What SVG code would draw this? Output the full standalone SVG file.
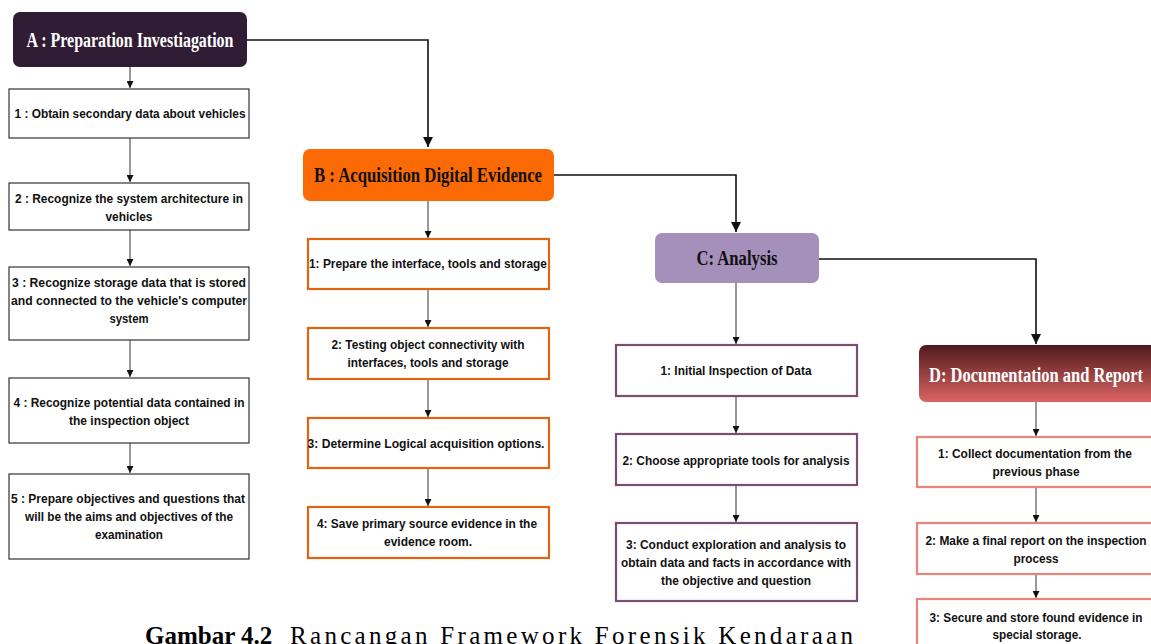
<svg xmlns="http://www.w3.org/2000/svg" width="1151" height="644" viewBox="0 0 1151 644">
  <defs>
    <marker id="arr" viewBox="0 0 10 10" refX="10" refY="5" markerWidth="7" markerHeight="7" markerUnits="userSpaceOnUse" orient="auto">
      <path d="M0,0 L10,5 L0,10 z" fill="#111"/>
    </marker>
    <marker id="arrBig" viewBox="0 0 10 10" refX="10" refY="5" markerWidth="10" markerHeight="10" markerUnits="userSpaceOnUse" orient="auto">
      <path d="M0,0 L10,5 L0,10 z" fill="#111"/>
    </marker>
    <linearGradient id="gradD" x1="0" y1="0" x2="0" y2="1">
      <stop offset="0" stop-color="#4f1a1d"/>
      <stop offset="1" stop-color="#dc6462"/>
    </linearGradient>
    <style>
      .hdr { font-family: "Liberation Serif", "Times New Roman", serif; font-weight: bold; font-size: 20px; text-anchor: middle; }
      .hw { fill: #ffffff; }
      .hb { fill: #111111; }
      .t { font-family: "Liberation Sans", Arial, sans-serif; font-weight: bold; font-size: 13.5px; fill: #111; text-anchor: middle; }
      .boxA { fill: #fff; stroke: #333; stroke-width: 1.2; }
      .boxB { fill: #fff; stroke: #e3640f; stroke-width: 2.2; }
      .boxC { fill: #fff; stroke: #7b4e6f; stroke-width: 2.2; }
      .boxD { fill: #fff; stroke: #e9847d; stroke-width: 2.2; }
      .main { fill: none; stroke: #111; stroke-width: 1.6; }
      .sub { fill: none; stroke: #555; stroke-width: 1.2; }
      .cap { font-family: "Liberation Serif", "Times New Roman", serif; font-size: 25px; fill: #000; }
    </style>
  </defs>

  <rect width="1151" height="644" fill="#ffffff"/>

  <!-- figure caption, distributed along the line and running off the bottom edge -->
  <text class="cap" x="145" y="644" font-weight="bold">Gambar 4.2</text>
  <text class="cap" x="290" y="644" textLength="563" lengthAdjust="spacing">Rancangan Framework Forensik Kendaraan</text>

  <!-- connectors -->
  <g id="connectors">
    <path class="main" d="M247,40 H428 V147" marker-end="url(#arrBig)"/>
    <path class="main" d="M554,175 H736 V232" marker-end="url(#arrBig)"/>
    <path class="main" d="M819,259 H1036 V344" marker-end="url(#arrBig)"/>

    <path class="sub" d="M130,67 V88" marker-end="url(#arr)"/>
    <path class="sub" d="M130,138 V182" marker-end="url(#arr)"/>
    <path class="sub" d="M130,230 V266" marker-end="url(#arr)"/>
    <path class="sub" d="M130,340 V377" marker-end="url(#arr)"/>
    <path class="sub" d="M130,443 V473" marker-end="url(#arr)"/>

    <path class="sub" d="M428,201 V238" marker-end="url(#arr)"/>
    <path class="sub" d="M428,289 V327" marker-end="url(#arr)"/>
    <path class="sub" d="M428,379 V417" marker-end="url(#arr)"/>
    <path class="sub" d="M428,468 V506" marker-end="url(#arr)"/>

    <path class="sub" d="M736,283 V344" marker-end="url(#arr)"/>
    <path class="sub" d="M736,396 V433" marker-end="url(#arr)"/>
    <path class="sub" d="M736,485 V522" marker-end="url(#arr)"/>

    <path class="sub" d="M1036,402 V436" marker-end="url(#arr)"/>
    <path class="sub" d="M1036,487 V522" marker-end="url(#arr)"/>
    <path class="sub" d="M1036,574 V598" marker-end="url(#arr)"/>
  </g>

  <!-- phase A -->
  <g id="nodeA">
    <rect x="13" y="12" width="234" height="55" rx="7" fill="#301c34"/>
    <text class="hdr hw" x="130" y="47" textLength="207" lengthAdjust="spacingAndGlyphs">A : Preparation Investiagation</text>
  </g>
  <g id="nodeA1">
    <rect class="boxA" x="9" y="89" width="240" height="49"/>
    <text class="t" x="130" y="118" textLength="231" lengthAdjust="spacingAndGlyphs">1 : Obtain secondary data about vehicles</text>
  </g>
  <g id="nodeA2">
    <rect class="boxA" x="9" y="183" width="240" height="47"/>
    <text class="t" x="129" y="203" textLength="228" lengthAdjust="spacingAndGlyphs">2 : Recognize the system architecture in</text>
    <text class="t" x="129" y="221" textLength="47" lengthAdjust="spacingAndGlyphs">vehicles</text>
  </g>
  <g id="nodeA3">
    <rect class="boxA" x="9" y="267" width="240" height="73"/>
    <text class="t" x="129" y="287" textLength="234" lengthAdjust="spacingAndGlyphs">3 : Recognize storage data that is stored</text>
    <text class="t" x="129" y="305" textLength="236" lengthAdjust="spacingAndGlyphs">and connected to the vehicle's computer</text>
    <text class="t" x="129" y="323" textLength="39" lengthAdjust="spacingAndGlyphs">system</text>
  </g>
  <g id="nodeA4">
    <rect class="boxA" x="9" y="378" width="240" height="65"/>
    <text class="t" x="129" y="407" textLength="231" lengthAdjust="spacingAndGlyphs">4 : Recognize potential data contained in</text>
    <text class="t" x="129" y="425" textLength="120" lengthAdjust="spacingAndGlyphs">the inspection object</text>
  </g>
  <g id="nodeA5">
    <rect class="boxA" x="9" y="474" width="240" height="85"/>
    <text class="t" x="128" y="503" textLength="234" lengthAdjust="spacingAndGlyphs">5 : Prepare objectives and questions that</text>
    <text class="t" x="129" y="521" textLength="208" lengthAdjust="spacingAndGlyphs">will be the aims and objectives of the</text>
    <text class="t" x="129" y="539" textLength="68" lengthAdjust="spacingAndGlyphs">examination</text>
  </g>

  <!-- phase B -->
  <g id="nodeB">
    <rect x="303" y="149" width="251" height="52" rx="7" fill="#fb6a04"/>
    <text class="hdr hb" x="428" y="182" textLength="228" lengthAdjust="spacingAndGlyphs">B : Acquisition Digital Evidence</text>
  </g>
  <g id="nodeB1">
    <rect class="boxB" x="308" y="239" width="241" height="50"/>
    <text class="t" x="428" y="268" textLength="238" lengthAdjust="spacingAndGlyphs">1: Prepare the interface, tools and storage</text>
  </g>
  <g id="nodeB2">
    <rect class="boxB" x="308" y="328" width="241" height="51"/>
    <text class="t" x="428" y="349" textLength="193" lengthAdjust="spacingAndGlyphs">2: Testing object connectivity with</text>
    <text class="t" x="428" y="367" textLength="161" lengthAdjust="spacingAndGlyphs">interfaces, tools and storage</text>
  </g>
  <g id="nodeB3">
    <rect class="boxB" x="308" y="418" width="241" height="50"/>
    <text class="t" x="426" y="448" textLength="237" lengthAdjust="spacingAndGlyphs">3: Determine Logical acquisition options.</text>
  </g>
  <g id="nodeB4">
    <rect class="boxB" x="308" y="507" width="241" height="51"/>
    <text class="t" x="427" y="528" textLength="220" lengthAdjust="spacingAndGlyphs">4: Save primary source evidence in the</text>
    <text class="t" x="428" y="546" textLength="88" lengthAdjust="spacingAndGlyphs">evidence room.</text>
  </g>

  <!-- phase C -->
  <g id="nodeC">
    <rect x="655" y="233" width="164" height="50" rx="7" fill="#a58fbb"/>
    <text class="hdr hb" x="737" y="265" textLength="81" lengthAdjust="spacingAndGlyphs">C: Analysis</text>
  </g>
  <g id="nodeC1">
    <rect class="boxC" x="616" y="345" width="241" height="51"/>
    <text class="t" x="736" y="375" textLength="151" lengthAdjust="spacingAndGlyphs">1: Initial Inspection of Data</text>
  </g>
  <g id="nodeC2">
    <rect class="boxC" x="616" y="434" width="241" height="51"/>
    <text class="t" x="736" y="465" textLength="227" lengthAdjust="spacingAndGlyphs">2: Choose appropriate tools for analysis</text>
  </g>
  <g id="nodeC3">
    <rect class="boxC" x="616" y="523" width="241" height="78"/>
    <text class="t" x="736" y="549" textLength="220" lengthAdjust="spacingAndGlyphs">3: Conduct exploration and analysis to</text>
    <text class="t" x="736" y="567" textLength="230" lengthAdjust="spacingAndGlyphs">obtain data and facts in accordance with</text>
    <text class="t" x="736" y="585" textLength="150" lengthAdjust="spacingAndGlyphs">the objective and question</text>
  </g>

  <!-- phase D -->
  <g id="nodeD">
    <rect x="919" y="345" width="240" height="57" rx="7" fill="url(#gradD)"/>
    <text class="hdr hw" x="1036" y="382" textLength="214" lengthAdjust="spacingAndGlyphs">D: Documentation and Report</text>
  </g>
  <g id="nodeD1">
    <rect class="boxD" x="917" y="437" width="240" height="50"/>
    <text class="t" x="1035" y="458" textLength="194" lengthAdjust="spacingAndGlyphs">1: Collect documentation from the</text>
    <text class="t" x="1036" y="476" textLength="87" lengthAdjust="spacingAndGlyphs">previous phase</text>
  </g>
  <g id="nodeD2">
    <rect class="boxD" x="917" y="523" width="240" height="51"/>
    <text class="t" x="1036" y="545" textLength="221" lengthAdjust="spacingAndGlyphs">2: Make a final report on the inspection</text>
    <text class="t" x="1036" y="563" textLength="45" lengthAdjust="spacingAndGlyphs">process</text>
  </g>
  <g id="nodeD3">
    <rect class="boxD" x="917" y="599" width="240" height="60"/>
    <text class="t" x="1036" y="622" textLength="213" lengthAdjust="spacingAndGlyphs">3: Secure and store found evidence in</text>
    <text class="t" x="1037" y="639" textLength="89" lengthAdjust="spacingAndGlyphs">special storage.</text>
  </g>
</svg>
